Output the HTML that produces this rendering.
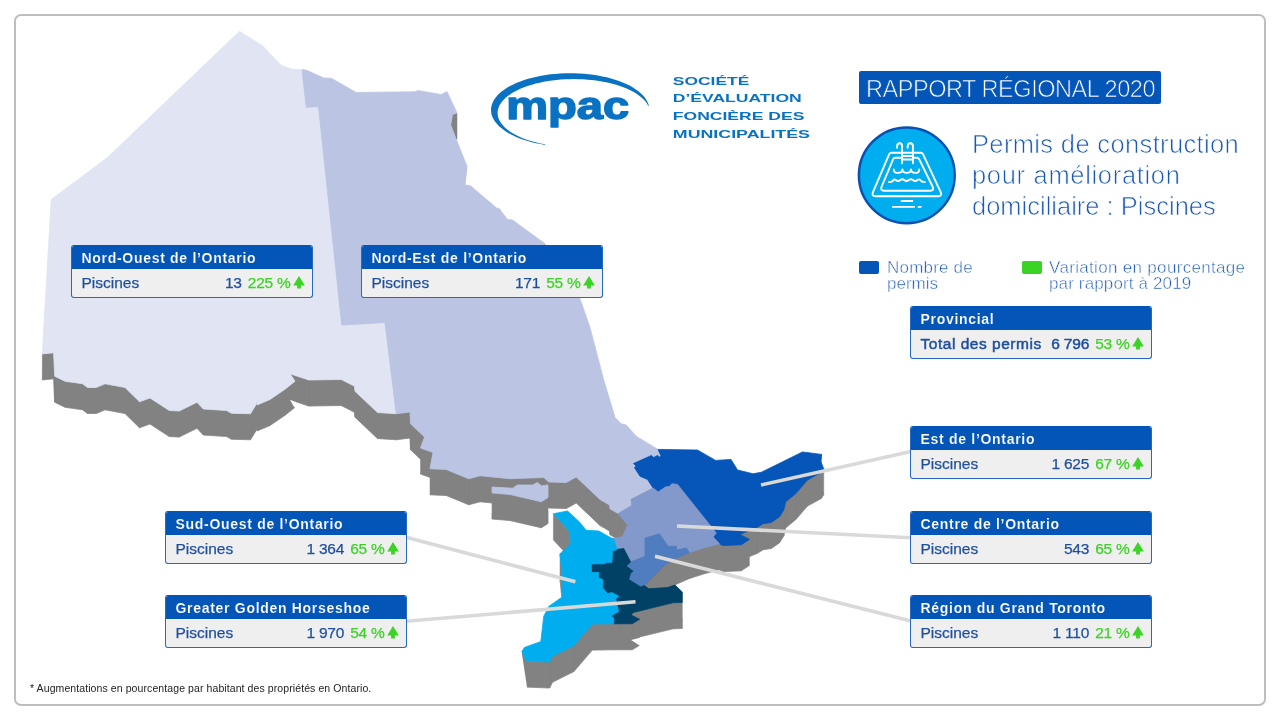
<!DOCTYPE html>
<html lang="fr">
<head>
<meta charset="utf-8">
<title>Rapport régional 2020 - Piscines</title>
<style>
*{box-sizing:border-box;margin:0;padding:0}
html,body{width:1280px;height:720px;background:#fff;overflow:hidden}
body{position:relative;font-family:"Liberation Sans",sans-serif}
.box,.rr,.title,.leg,.foot,svg.art{will-change:transform}
.frame{position:absolute;left:14px;top:14px;width:1252px;height:692px;border:2px solid #bebec0;border-radius:7px}
svg.art{position:absolute;left:0;top:0;width:1280px;height:720px}
.box{position:absolute;width:242px;height:53px;border:1px solid #2569c6;border-top-color:#0455b8;border-radius:3px;background:#efefef;overflow:hidden}
.box .h{height:23px;background:#0455b8;color:#fff;font-weight:bold;font-size:14px;line-height:24.6px;padding-left:9.5px;white-space:nowrap;letter-spacing:0.7px;-webkit-text-stroke:0.12px #0455b8}
.box .r{position:relative;height:28px;font-size:15.5px;line-height:28.6px;color:#1f4f9e;white-space:nowrap;-webkit-text-stroke:0.25px currentColor}
.box .r .l{position:absolute;left:9.5px;top:0;letter-spacing:0px}
.box .r .v{position:absolute;right:21.3px;top:0;letter-spacing:-0.2px}
.box .r .g{color:#3bd325;margin-left:6px}
.box .r svg{position:absolute;right:7.4px;top:6.7px;width:12px;height:13px}
.box.b .r .l,.box.b .r .v .n{-webkit-text-stroke:0.5px currentColor}.box.b .r .l{letter-spacing:0.52px}.box.b .r .v .n{letter-spacing:-0.15px}
.rr{position:absolute;left:858.5px;top:71px;width:301.8px;height:33px;background:#0455b8;border-radius:2px;color:#fff;font-size:23.5px;line-height:36.5px;padding-left:7px;white-space:nowrap;letter-spacing:-0.46px;-webkit-text-stroke:0.7px #0455b8;overflow:hidden}
.title{position:absolute;left:972.3px;top:128.6px;font-size:25.5px;line-height:31px;color:#1a58b6;white-space:nowrap;-webkit-text-stroke:0.7px #fff}
.leg{position:absolute;font-size:17px;line-height:16px;letter-spacing:0.2px;color:#1a58b6;white-space:nowrap;-webkit-text-stroke:0.5px #fff}
.sw{position:absolute;top:261px;width:20px;height:13px;border-radius:2px}
.foot{position:absolute;left:29.5px;top:681.5px;font-size:10.5px;letter-spacing:0.09px;line-height:13px;color:#222;white-space:nowrap}
</style>
</head>
<body>
<div class="frame"></div>
<svg class="art" viewBox="0 0 1280 720">
<g fill="#828282" stroke="#828282" stroke-width="0.5" stroke-linejoin="round">
<path d="M396.25 439.75L377.50 438.50L377.50 412.50L396.25 413.75ZM377.50 438.50L355.00 417.25L355.00 391.25L377.50 412.50ZM355.00 417.25L354.50 412.25L354.50 386.25L355.00 391.25ZM354.50 412.25L341.25 405.50L341.25 379.50L354.50 386.25ZM341.25 405.50L308.75 406.00L308.75 380.00L341.25 379.50ZM308.75 406.00L290.00 399.75L290.00 373.75L308.75 380.00ZM295.00 407.25L285.00 415.25L285.00 389.25L295.00 381.25ZM285.00 415.25L270.00 425.50L270.00 399.50L285.00 389.25ZM270.00 425.50L257.00 431.00L257.00 405.00L270.00 399.50ZM258.25 427.00L250.50 439.75L250.50 413.75L258.25 401.00ZM250.50 439.75L231.50 439.25L231.50 413.25L250.50 413.75ZM231.50 439.25L226.50 436.50L226.50 410.50L231.50 413.25ZM226.50 436.50L203.25 435.00L203.25 409.00L226.50 410.50ZM203.25 435.00L197.00 428.25L197.00 402.25L203.25 409.00ZM197.00 428.25L179.25 437.00L179.25 411.00L197.00 402.25ZM179.25 437.00L169.25 436.50L169.25 410.50L179.25 411.00ZM169.25 436.50L150.00 424.00L150.00 398.00L169.25 410.50ZM150.00 424.00L139.50 427.75L139.50 401.75L150.00 398.00ZM139.50 427.75L125.00 413.50L125.00 387.50L139.50 401.75ZM125.00 413.50L105.00 409.75L105.00 383.75L125.00 387.50ZM105.00 409.75L96.25 413.50L96.25 387.50L105.00 383.75ZM96.25 413.50L87.50 413.50L87.50 387.50L96.25 387.50ZM87.50 413.50L82.50 409.75L82.50 383.75L87.50 387.50ZM82.50 409.75L65.00 407.25L65.00 381.25L82.50 383.75ZM65.00 407.25L54.70 402.20L54.70 376.20L65.00 381.25ZM54.70 402.20L53.60 378.80L53.60 352.80L54.70 376.20ZM53.60 378.80L42.30 379.90L42.30 353.90L53.60 352.80ZM239.50 57.25L262.50 71.75L281.25 91.50L291.25 95.00L302.00 95.75L306.25 133.25L318.50 132.60L341.75 351.00L385.00 348.50L396.25 439.75L377.50 438.50L355.00 417.25L354.50 412.25L341.25 405.50L308.75 406.00L290.00 399.75L295.00 407.25L285.00 415.25L270.00 425.50L257.00 431.00L258.25 427.00L250.50 439.75L231.50 439.25L226.50 436.50L203.25 435.00L197.00 428.25L179.25 437.00L169.25 436.50L150.00 424.00L139.50 427.75L125.00 413.50L105.00 409.75L96.25 413.50L87.50 413.50L82.50 409.75L65.00 407.25L54.70 402.20L53.60 378.80L42.30 379.90L51.20 225.60L107.50 183.50Z"/>
<path d="M457.00 139.00L452.50 140.50L452.50 114.50L457.00 113.00ZM452.50 140.50L450.75 151.00L450.75 125.00L452.50 114.50ZM467.00 192.25L465.00 211.00L465.00 185.00L467.00 166.25ZM660.90 481.60L659.75 483.25L659.75 457.25L660.90 455.60ZM659.75 483.25L657.50 481.40L657.50 455.40L659.75 457.25ZM657.50 481.40L653.50 483.50L653.50 457.50L657.50 455.40ZM653.50 483.50L651.50 481.40L651.50 455.40L653.50 457.50ZM651.50 481.40L633.50 489.50L633.50 463.50L651.50 455.40ZM636.25 492.25L634.40 493.50L634.40 467.50L636.25 466.25ZM653.10 514.10L631.00 525.40L631.00 499.40L653.10 488.10ZM631.90 531.60L618.10 539.50L618.10 513.50L631.90 505.60ZM618.10 539.50L610.00 534.75L610.00 508.75L618.10 513.50ZM610.00 534.75L609.50 531.00L609.50 505.00L610.00 508.75ZM609.50 531.00L600.00 525.50L600.00 499.50L609.50 505.00ZM600.00 525.50L576.25 503.00L576.25 477.00L600.00 499.50ZM576.25 503.00L566.25 508.50L566.25 482.50L576.25 477.00ZM566.25 508.50L548.75 508.00L548.75 482.00L566.25 482.50ZM548.75 508.00L543.75 503.50L543.75 477.50L548.75 482.00ZM543.75 503.50L510.00 504.75L510.00 478.75L543.75 477.50ZM510.00 504.75L480.00 501.75L480.00 475.75L510.00 478.75ZM480.00 501.75L468.75 504.75L468.75 478.75L480.00 475.75ZM468.75 504.75L446.25 495.50L446.25 469.50L468.75 478.75ZM446.25 495.50L430.00 494.75L430.00 468.75L446.25 469.50ZM433.00 478.50L420.50 474.00L420.50 448.00L433.00 452.50ZM424.50 463.00L410.50 449.75L410.50 423.75L424.50 437.00ZM410.50 449.75L410.00 438.00L410.00 412.00L410.50 423.75ZM410.00 438.00L396.25 439.75L396.25 413.75L410.00 412.00ZM396.25 439.75L385.00 348.50L385.00 322.50L396.25 413.75ZM385.00 348.50L341.75 351.00L341.75 325.00L385.00 322.50ZM341.75 351.00L318.50 132.60L318.50 106.60L341.75 325.00ZM318.50 132.60L306.25 133.25L306.25 107.25L318.50 106.60ZM306.25 133.25L302.00 95.75L302.00 69.75L306.25 107.25ZM302.00 95.75L306.25 96.00L323.75 104.00L331.25 104.25L356.25 118.50L415.00 117.75L417.50 116.50L441.25 120.50L447.00 117.50L457.00 139.00L452.50 140.50L450.75 151.00L457.00 167.25L467.00 192.25L465.00 211.00L470.50 211.75L497.50 234.75L498.75 234.00L507.50 245.50L512.50 246.00L545.00 269.75L580.00 324.75L590.00 353.50L603.75 406.00L615.00 443.50L621.25 449.75L626.25 451.00L636.25 462.25L658.00 475.40L660.90 481.60L659.75 483.25L657.50 481.40L653.50 483.50L651.50 481.40L633.50 489.50L636.25 492.25L634.40 493.50L640.00 502.25L647.50 505.40L653.10 514.10L631.00 525.40L631.90 531.60L618.10 539.50L610.00 534.75L609.50 531.00L600.00 525.50L576.25 503.00L566.25 508.50L548.75 508.00L543.75 503.50L510.00 504.75L480.00 501.75L468.75 504.75L446.25 495.50L430.00 494.75L433.00 478.50L420.50 474.00L424.50 463.00L410.50 449.75L410.00 438.00L396.25 439.75L385.00 348.50L341.75 351.00L318.50 132.60L306.25 133.25Z"/>
<path d="M548.00 523.50L541.25 527.75L541.25 501.75L548.00 497.50ZM541.25 527.75L510.00 520.50L510.00 494.50L541.25 501.75ZM510.00 520.50L492.00 519.00L492.00 493.00L510.00 494.50ZM492.00 513.00L512.50 514.25L517.50 511.00L532.50 511.00L537.50 508.50L541.25 511.75L548.00 511.00L548.00 523.50L541.25 527.75L510.00 520.50L492.00 519.00Z"/>
<path d="M821.60 480.40L820.60 487.25L820.60 461.25L821.60 454.40ZM823.75 494.75L821.25 498.50L821.25 472.50L823.75 468.75ZM821.25 498.50L807.50 506.00L807.50 480.00L821.25 472.50ZM807.50 506.00L795.60 519.75L795.60 493.75L807.50 480.00ZM795.60 519.75L785.60 527.90L785.60 501.90L795.60 493.75ZM785.60 527.90L783.75 536.00L783.75 510.00L785.60 501.90ZM783.75 536.00L779.40 542.90L779.40 516.90L783.75 510.00ZM779.40 542.90L771.25 548.50L771.25 522.50L779.40 516.90ZM771.25 548.50L763.10 549.75L763.10 523.75L771.25 522.50ZM763.10 549.75L756.90 553.50L756.90 527.50L763.10 523.75ZM756.90 553.50L740.00 560.40L740.00 534.40L756.90 527.50ZM749.40 565.40L741.25 570.75L741.25 544.75L749.40 539.40ZM741.25 570.75L723.10 571.60L723.10 545.60L741.25 544.75ZM723.10 571.60L719.40 569.75L719.40 543.75L723.10 545.60ZM719.40 569.75L713.10 562.90L713.10 536.90L719.40 543.75ZM716.25 559.10L677.50 510.40L677.50 484.40L716.25 533.10ZM677.50 510.40L671.90 509.75L671.90 483.75L677.50 484.40ZM671.90 509.75L669.40 512.50L669.40 486.50L671.90 483.75ZM669.40 512.50L665.60 512.90L665.60 486.90L669.40 486.50ZM665.60 512.90L658.10 517.90L658.10 491.90L665.60 486.90ZM658.10 517.90L653.10 514.10L653.10 488.10L658.10 491.90ZM653.10 514.10L647.50 505.40L647.50 479.40L653.10 488.10ZM647.50 505.40L640.00 502.25L640.00 476.25L647.50 479.40ZM640.00 502.25L634.40 493.50L634.40 467.50L640.00 476.25ZM636.25 492.25L633.50 489.50L633.50 463.50L636.25 466.25ZM660.90 481.60L658.00 475.40L658.00 449.40L660.90 455.60ZM658.00 475.40L697.50 476.00L715.60 486.40L731.00 485.40L737.50 496.00L753.10 499.75L761.25 498.25L780.00 489.10L802.50 477.90L821.60 480.40L820.60 487.25L823.75 494.75L821.25 498.50L807.50 506.00L795.60 519.75L785.60 527.90L783.75 536.00L779.40 542.90L771.25 548.50L763.10 549.75L756.90 553.50L740.00 560.40L749.40 565.40L741.25 570.75L723.10 571.60L719.40 569.75L713.10 562.90L716.25 559.10L677.50 510.40L671.90 509.75L669.40 512.50L665.60 512.90L658.10 517.90L653.10 514.10L647.50 505.40L640.00 502.25L634.40 493.50L636.25 492.25L633.50 489.50L651.50 481.40L653.50 483.50L657.50 481.40L659.75 483.25L660.90 481.60Z"/>
<path d="M716.25 559.10L713.10 562.90L713.10 536.90L716.25 533.10ZM719.40 569.75L705.00 573.50L705.00 547.50L719.40 543.75ZM705.00 573.50L689.40 578.50L689.40 552.50L705.00 547.50ZM689.40 578.50L686.25 574.10L686.25 548.10L689.40 552.50ZM686.25 574.10L676.90 576.00L676.90 550.00L686.25 548.10ZM676.90 576.00L676.25 572.25L676.25 546.25L676.90 550.00ZM676.25 572.25L668.10 572.25L668.10 546.25L676.25 546.25ZM668.10 572.25L659.40 559.75L659.40 533.75L668.10 546.25ZM659.40 559.75L645.00 564.10L645.00 538.10L659.40 533.75ZM645.00 581.00L643.75 582.90L643.75 556.90L645.00 555.00ZM643.75 582.90L630.60 587.90L630.60 561.90L643.75 556.90ZM630.60 587.90L623.75 574.50L623.75 548.50L630.60 561.90ZM623.75 574.50L616.90 575.40L616.90 549.40L623.75 548.50ZM616.90 575.40L613.75 564.50L613.75 538.50L616.90 549.40ZM627.50 551.00L618.10 539.50L618.10 513.50L627.50 525.00ZM631.90 531.60L631.00 525.40L631.00 499.40L631.90 505.60ZM653.10 514.10L658.10 517.90L665.60 512.90L669.40 512.50L671.90 509.75L677.50 510.40L716.25 559.10L713.10 562.90L719.40 569.75L705.00 573.50L689.40 578.50L686.25 574.10L676.90 576.00L676.25 572.25L668.10 572.25L659.40 559.75L645.00 564.10L645.00 581.00L643.75 582.90L630.60 587.90L623.75 574.50L616.90 575.40L613.75 564.50L622.50 562.90L627.50 551.00L618.10 539.50L631.90 531.60L631.00 525.40Z"/>
<path d="M689.40 578.50L675.00 584.75L675.00 558.75L689.40 552.50ZM675.00 584.75L665.00 591.00L665.00 565.00L675.00 558.75ZM665.00 591.00L655.00 601.00L655.00 575.00L665.00 565.00ZM655.00 601.00L644.40 611.60L644.40 585.60L655.00 575.00ZM644.40 611.60L640.60 612.90L640.60 586.90L644.40 585.60ZM640.60 612.90L628.75 605.40L628.75 579.40L640.60 586.90ZM633.10 597.25L626.25 592.00L626.25 566.00L633.10 571.25ZM630.60 587.90L643.75 582.90L645.00 581.00L645.00 564.10L659.40 559.75L668.10 572.25L676.25 572.25L676.90 576.00L686.25 574.10L689.40 578.50L675.00 584.75L665.00 591.00L655.00 601.00L644.40 611.60L640.60 612.90L628.75 605.40L630.60 599.10L633.10 597.25L626.25 592.00Z"/>
<path d="M630.60 587.90L626.25 592.00L626.25 566.00L630.60 561.90ZM633.10 597.25L630.60 599.10L630.60 573.10L633.10 571.25ZM630.60 599.10L628.75 605.40L628.75 579.40L630.60 573.10ZM682.30 628.40L673.00 628.80L673.00 602.80L682.30 602.40ZM673.00 628.80L633.10 638.50L633.10 612.50L673.00 602.80ZM633.10 638.50L631.20 641.00L631.20 615.00L633.10 612.50ZM639.60 645.30L632.20 649.75L632.20 623.75L639.60 619.30ZM632.20 649.75L613.70 649.75L613.70 623.75L632.20 623.75ZM613.70 644.30L611.20 641.80L611.20 615.80L613.70 618.30ZM618.60 637.50L615.60 625.00L615.60 599.00L618.60 611.50ZM618.75 622.25L611.90 618.50L611.90 592.50L618.75 596.25ZM611.90 618.50L607.50 619.75L607.50 593.75L611.90 592.50ZM607.50 619.75L602.50 613.50L602.50 587.50L607.50 593.75ZM603.10 606.00L598.50 603.50L598.50 577.50L603.10 580.00ZM598.75 598.50L591.50 598.50L591.50 572.50L598.75 572.50ZM591.50 598.50L591.25 590.00L591.25 564.00L591.50 572.50ZM616.90 575.40L623.75 574.50L630.60 587.90L626.25 592.00L633.10 597.25L630.60 599.10L628.75 605.40L640.60 612.90L644.40 611.60L648.75 614.75L667.50 613.50L675.00 611.00L682.30 618.10L682.30 628.40L673.00 628.80L633.10 638.50L631.20 641.00L639.60 645.30L632.20 649.75L613.70 649.75L613.70 644.30L611.20 641.80L618.60 637.50L615.60 625.00L618.75 622.25L611.90 618.50L607.50 619.75L602.50 613.50L603.10 606.00L598.50 603.50L598.75 598.50L591.50 598.50L591.25 590.00L605.00 589.75L606.25 588.50L611.90 588.50L612.50 577.25Z"/>
<path d="M616.90 575.40L612.50 577.25L612.50 551.25L616.90 549.40ZM612.50 577.25L611.90 588.50L611.90 562.50L612.50 551.25ZM611.90 588.50L606.25 588.50L606.25 562.50L611.90 562.50ZM606.25 588.50L605.00 589.75L605.00 563.75L606.25 562.50ZM605.00 589.75L591.25 590.00L591.25 564.00L605.00 563.75ZM598.75 598.50L598.50 603.50L598.50 577.50L598.75 572.50ZM603.10 606.00L602.50 613.50L602.50 587.50L603.10 580.00ZM618.75 622.25L615.60 625.00L615.60 599.00L618.75 596.25ZM618.60 637.50L611.20 641.80L611.20 615.80L618.60 611.50ZM613.70 649.75L592.30 650.10L592.30 624.10L613.70 623.75ZM592.30 650.10L573.90 671.50L573.90 645.50L592.30 624.10ZM573.90 671.50L552.50 682.20L552.50 656.20L573.90 645.50ZM552.50 682.20L549.60 688.00L549.60 662.00L552.50 656.20ZM549.60 688.00L526.20 687.10L526.20 661.10L549.60 662.00ZM526.20 687.10L522.00 677.40L522.00 651.40L526.20 661.10ZM562.30 602.25L560.00 579.75L560.00 553.75L562.30 576.25ZM571.00 569.10L569.40 557.25L569.40 531.25L571.00 543.10ZM569.40 557.25L553.40 539.75L553.40 513.75L569.40 531.25ZM553.40 539.75L567.50 537.00L578.75 547.25L586.25 556.25L598.75 557.00L611.25 563.90L613.75 564.50L616.90 575.40L612.50 577.25L611.90 588.50L606.25 588.50L605.00 589.75L591.25 590.00L591.50 598.50L598.75 598.50L598.50 603.50L603.10 606.00L602.50 613.50L607.50 619.75L611.90 618.50L618.75 622.25L615.60 625.00L618.60 637.50L611.20 641.80L613.70 644.30L613.70 649.75L592.30 650.10L573.90 671.50L552.50 682.20L549.60 688.00L526.20 687.10L522.00 677.40L524.30 673.50L540.80 667.60L543.70 642.40L548.60 632.60L562.20 622.90L562.30 602.25L560.00 579.75L571.00 569.10L569.40 557.25Z"/>
</g>
<g fill="#fff">
<polygon points="519,651.6 521.6,651.6 527.1,687.8 519,690"/>
<polygon points="631.1,640 639.9,645.7 641,645.7 641,637.6"/>
<polygon points="290,399.8 296.2,402.2 296.2,408.2 293.9,406.8"/>
<polygon points="467,166.3 468.5,166.3 468.5,185.5 465,185"/>
</g>
<polygon points="239.50,31.25 262.50,45.75 281.25,65.50 291.25,69.00 302.00,69.75 306.25,107.25 318.50,106.60 341.75,325.00 385.00,322.50 396.25,413.75 377.50,412.50 355.00,391.25 354.50,386.25 341.25,379.50 308.75,380.00 290.00,373.75 295.00,381.25 285.00,389.25 270.00,399.50 257.00,405.00 258.25,401.00 250.50,413.75 231.50,413.25 226.50,410.50 203.25,409.00 197.00,402.25 179.25,411.00 169.25,410.50 150.00,398.00 139.50,401.75 125.00,387.50 105.00,383.75 96.25,387.50 87.50,387.50 82.50,383.75 65.00,381.25 54.70,376.20 53.60,352.80 42.30,353.90 51.20,199.60 107.50,157.50" fill="#e0e4f3" stroke="#e0e4f3" stroke-width="0.8" stroke-linejoin="round"/>
<polygon points="302.00,69.75 306.25,70.00 323.75,78.00 331.25,78.25 356.25,92.50 415.00,91.75 417.50,90.50 441.25,94.50 447.00,91.50 457.00,113.00 452.50,114.50 450.75,125.00 457.00,141.25 467.00,166.25 465.00,185.00 470.50,185.75 497.50,208.75 498.75,208.00 507.50,219.50 512.50,220.00 545.00,243.75 580.00,298.75 590.00,327.50 603.75,380.00 615.00,417.50 621.25,423.75 626.25,425.00 636.25,436.25 658.00,449.40 660.90,455.60 659.75,457.25 657.50,455.40 653.50,457.50 651.50,455.40 633.50,463.50 636.25,466.25 634.40,467.50 640.00,476.25 647.50,479.40 653.10,488.10 631.00,499.40 631.90,505.60 618.10,513.50 610.00,508.75 609.50,505.00 600.00,499.50 576.25,477.00 566.25,482.50 548.75,482.00 543.75,477.50 510.00,478.75 480.00,475.75 468.75,478.75 446.25,469.50 430.00,468.75 433.00,452.50 420.50,448.00 424.50,437.00 410.50,423.75 410.00,412.00 396.25,413.75 385.00,322.50 341.75,325.00 318.50,106.60 306.25,107.25" fill="#bbc5e3" stroke="#bbc5e3" stroke-width="0.8" stroke-linejoin="round"/>
<polygon points="492.00,487.00 512.50,488.25 517.50,485.00 532.50,485.00 537.50,482.50 541.25,485.75 548.00,485.00 548.00,497.50 541.25,501.75 510.00,494.50 492.00,493.00" fill="#bbc5e3" stroke="#bbc5e3" stroke-width="0.8" stroke-linejoin="round"/>
<polygon points="658.00,449.40 697.50,450.00 715.60,460.40 731.00,459.40 737.50,470.00 753.10,473.75 761.25,472.25 780.00,463.10 802.50,451.90 821.60,454.40 820.60,461.25 823.75,468.75 821.25,472.50 807.50,480.00 795.60,493.75 785.60,501.90 783.75,510.00 779.40,516.90 771.25,522.50 763.10,523.75 756.90,527.50 740.00,534.40 749.40,539.40 741.25,544.75 723.10,545.60 719.40,543.75 713.10,536.90 716.25,533.10 677.50,484.40 671.90,483.75 669.40,486.50 665.60,486.90 658.10,491.90 653.10,488.10 647.50,479.40 640.00,476.25 634.40,467.50 636.25,466.25 633.50,463.50 651.50,455.40 653.50,457.50 657.50,455.40 659.75,457.25 660.90,455.60" fill="#0656b9" stroke="#0656b9" stroke-width="0.8" stroke-linejoin="round"/>
<polygon points="653.10,488.10 658.10,491.90 665.60,486.90 669.40,486.50 671.90,483.75 677.50,484.40 716.25,533.10 713.10,536.90 719.40,543.75 705.00,547.50 689.40,552.50 686.25,548.10 676.90,550.00 676.25,546.25 668.10,546.25 659.40,533.75 645.00,538.10 645.00,555.00 643.75,556.90 630.60,561.90 623.75,548.50 616.90,549.40 613.75,538.50 622.50,536.90 627.50,525.00 618.10,513.50 631.90,505.60 631.00,499.40" fill="#8499cb" stroke="#8499cb" stroke-width="0.8" stroke-linejoin="round"/>
<polygon points="630.60,561.90 643.75,556.90 645.00,555.00 645.00,538.10 659.40,533.75 668.10,546.25 676.25,546.25 676.90,550.00 686.25,548.10 689.40,552.50 675.00,558.75 665.00,565.00 655.00,575.00 644.40,585.60 640.60,586.90 628.75,579.40 630.60,573.10 633.10,571.25 626.25,566.00" fill="#4f7dbf" stroke="#4f7dbf" stroke-width="0.8" stroke-linejoin="round"/>
<polygon points="616.90,549.40 623.75,548.50 630.60,561.90 626.25,566.00 633.10,571.25 630.60,573.10 628.75,579.40 640.60,586.90 644.40,585.60 648.75,588.75 667.50,587.50 675.00,585.00 682.30,592.10 682.30,602.40 673.00,602.80 633.10,612.50 631.20,615.00 639.60,619.30 632.20,623.75 613.70,623.75 613.70,618.30 611.20,615.80 618.60,611.50 615.60,599.00 618.75,596.25 611.90,592.50 607.50,593.75 602.50,587.50 603.10,580.00 598.50,577.50 598.75,572.50 591.50,572.50 591.25,564.00 605.00,563.75 606.25,562.50 611.90,562.50 612.50,551.25" fill="#004165" stroke="#004165" stroke-width="0.8" stroke-linejoin="round"/>
<polygon points="553.40,513.75 567.50,511.00 578.75,521.25 586.25,530.25 598.75,531.00 611.25,537.90 613.75,538.50 616.90,549.40 612.50,551.25 611.90,562.50 606.25,562.50 605.00,563.75 591.25,564.00 591.50,572.50 598.75,572.50 598.50,577.50 603.10,580.00 602.50,587.50 607.50,593.75 611.90,592.50 618.75,596.25 615.60,599.00 618.60,611.50 611.20,615.80 613.70,618.30 613.70,623.75 592.30,624.10 573.90,645.50 552.50,656.20 549.60,662.00 526.20,661.10 522.00,651.40 524.30,647.50 540.80,641.60 543.70,616.40 548.60,606.60 562.20,596.90 562.30,576.25 560.00,553.75 571.00,543.10 569.40,531.25" fill="#00aeef" stroke="#00aeef" stroke-width="0.8" stroke-linejoin="round"/>
<!-- leader lines -->
<g stroke="#d9d9d9" stroke-width="3.6" fill="none">
<line x1="761" y1="485" x2="911" y2="451.6"/>
<line x1="677" y1="526" x2="911" y2="537.8"/>
<line x1="655" y1="556.3" x2="911" y2="621"/>
<line x1="406" y1="537.3" x2="575.4" y2="581.8"/>
<line x1="406" y1="621.3" x2="635.5" y2="601.8"/>
</g>
<!-- logo -->
<g fill="#0a72c2">
<polygon points="649.90,105.40 648.89,105.83 648.20,103.61 647.21,101.41 645.94,99.24 644.38,97.11 642.55,95.03 640.45,93.01 638.09,91.05 635.47,89.16 632.61,87.34 629.52,85.62 626.20,83.98 622.68,82.44 618.96,81.00 615.06,79.67 610.99,78.46 606.77,77.36 602.41,76.38 597.94,75.53 593.36,74.81 588.69,74.22 583.95,73.76 579.17,73.44 574.35,73.25 569.51,73.20 564.68,73.29 559.86,73.51 555.09,73.88 550.37,74.37 545.73,75.00 541.17,75.76 536.73,76.65 532.41,77.66 528.23,78.79 524.21,80.04 520.36,81.40 516.69,82.87 513.23,84.44 509.98,86.10 506.95,87.85 504.16,89.69 501.61,91.60 499.32,93.58 497.30,95.62 495.54,97.72 494.07,99.86 492.88,102.04 491.98,104.24 491.36,106.47 491.05,108.72 491.03,110.96 491.30,113.21 491.87,115.44 492.73,117.65 493.88,119.83 495.31,121.98 497.03,124.08 499.02,126.13 501.27,128.12 503.78,130.04 506.53,131.89 509.53,133.65 512.75,135.33 516.19,136.91 519.82,138.40 523.65,139.77 527.65,141.04 531.80,142.19 536.10,143.22 540.53,144.12 545.07,144.90 545.00,144.40 544.64,144.32 540.57,143.51 536.61,142.59 532.78,141.57 529.09,140.45 525.55,139.24 522.18,137.94 518.99,136.55 515.98,135.08 513.17,133.54 510.57,131.92 508.19,130.24 506.04,128.50 504.11,126.71 502.43,124.87 500.99,122.99 499.80,121.08 498.86,119.14 498.18,117.17 497.76,115.20 497.60,113.21 497.70,111.23 498.07,109.25 498.69,107.28 499.57,105.33 500.71,103.41 502.10,101.52 503.73,99.68 505.61,97.87 507.71,96.12 510.05,94.43 512.60,92.80 515.37,91.24 518.33,89.76 521.49,88.35 524.82,87.03 528.32,85.80 531.98,84.66 535.78,83.62 539.71,82.68 543.76,81.84 547.92,81.12 552.16,80.50 556.47,79.99 560.85,79.59 565.27,79.31 569.72,79.15 574.18,79.10 578.64,79.17 583.09,79.35 587.50,79.65 591.87,80.07 596.17,80.59 600.40,81.23 604.53,81.98 608.56,82.83 612.47,83.79 616.25,84.85 619.89,86.00 623.36,87.25 626.66,88.59 629.79,90.00 632.72,91.50 635.45,93.07 637.96,94.71 640.26,96.42 642.33,98.18 644.16,99.99 645.76,101.84 647.10,103.74 648.19,105.66"/>
<text x="506.2" y="118.5" font-family="Liberation Sans, sans-serif" font-weight="bold" font-size="39.5" textLength="123" lengthAdjust="spacingAndGlyphs" stroke="#0a72c2" stroke-width="1.5" stroke-linejoin="round">mpac</text>
<g font-family="Liberation Sans, sans-serif" font-weight="bold" font-size="11.2">
<text x="672.8" y="84.6" textLength="76.6" lengthAdjust="spacingAndGlyphs">SOCIÉTÉ</text>
<text x="672.8" y="102.3" textLength="129" lengthAdjust="spacingAndGlyphs">D’ÉVALUATION</text>
<text x="672.8" y="120.4" textLength="131.6" lengthAdjust="spacingAndGlyphs">FONCIÈRE DES</text>
<text x="672.8" y="138.1" textLength="137.2" lengthAdjust="spacingAndGlyphs">MUNICIPALITÉS</text>
</g>
</g>
<!-- pool icon -->
<circle cx="906.8" cy="175.3" r="47.9" fill="#00aeef" stroke="#0a50b2" stroke-width="2.5"/>
<g fill="none" stroke="#fff" stroke-width="1.9" stroke-linecap="round" stroke-linejoin="round">
<path d="M901,152.7 H891.5 Q889.9,152.7 889.2,154.2 L872.9,192.3 Q871.4,196.2 875.5,196.2 H938.2 Q942.3,196.2 940.8,192.3 L923,154.2 Q922.3,152.7 920.7,152.7 H914"/>
<path d="M901,157.7 H895 Q893.8,157.7 893.3,158.8 L881.5,187 Q880.3,190.8 883.8,190.8 H930.5 Q934,190.8 932.8,187 L919,158.8 Q918.5,157.7 917.3,157.7 H914"/>
<path d="M902.1,163.2 V146.2 Q902.1,143.3 899.6,143.3 Q897.1,143.3 897.1,146.2 V147.7"/>
<path d="M912.9,163.2 V146.2 Q912.9,143.3 910.3,143.3 Q907.7,143.3 907.7,146.2 V147.7"/>
<path d="M902.1,152.7 H912.9 M902.1,156 H912.9 M902.1,159.5 H912.9"/>
<path d="M893.8,169.4 Q893.8,172.9 898,172.9 Q902.2,172.9 902.4,169.4 Q902.6,172.9 906.7,172.9 Q910.8,172.9 911,169.4 Q911.2,172.9 915.2,172.9 Q919.3,172.9 919.3,169.4"/>
<path d="M888.8,182.1 Q892.4,182.1 893.4,180.2 Q894.2,178.8 895.7,180 Q898,182.1 900.4,180 Q902.3,178.4 904.2,180 Q906.6,182.1 909,180 Q910.9,178.4 912.8,180 Q915.2,182.1 917.6,180 Q919.3,178.6 920.4,180.2 Q921.6,182.1 924.9,182.1"/>
<path d="M901.5,201 H912.4 M892.8,206.8 H914.2 M918.4,206.8 H920.8" stroke-width="1.8"/>
</g>
</svg>

<div class="rr">RAPPORT RÉGIONAL 2020</div>
<div class="title"><span style="letter-spacing:0.35px">Permis de construction</span><br><span style="letter-spacing:0.68px">pour amélioration</span><br>domiciliaire : Piscines</div>

<div class="sw" style="left:859px;background:#0455b8"></div>
<div class="leg" style="left:886.5px;top:260px">Nombre de<br><span style="letter-spacing:0px">permis</span></div>
<div class="sw" style="left:1021.5px;background:#3bd325"></div>
<div class="leg" style="left:1049px;top:260px"><span style="letter-spacing:0.32px">Variation en pourcentage</span><br><span style="letter-spacing:0.14px">par rapport à 2019</span></div>

<div class="box" style="left:71px;top:244.5px"><div class="h">Nord-Ouest de l’Ontario</div><div class="r"><span class="l">Piscines</span><span class="v"><span class="n">13</span><span class="g">225 %</span></span><svg viewBox="0 0 12 13"><path d="M6,0 L11.8,9.6 H7.9 V12.6 H4.1 V9.6 H0.2 Z" fill="#3bd325"/></svg></div></div>

<div class="box" style="left:361px;top:244.5px"><div class="h">Nord-Est de l’Ontario</div><div class="r"><span class="l">Piscines</span><span class="v"><span class="n">171</span><span class="g">55 %</span></span><svg viewBox="0 0 12 13"><path d="M6,0 L11.8,9.6 H7.9 V12.6 H4.1 V9.6 H0.2 Z" fill="#3bd325"/></svg></div></div>

<div class="box b" style="left:910px;top:306px"><div class="h">Provincial</div><div class="r"><span class="l">Total des permis</span><span class="v"><span class="n">6 796</span><span class="g">53 %</span></span><svg viewBox="0 0 12 13"><path d="M6,0 L11.8,9.6 H7.9 V12.6 H4.1 V9.6 H0.2 Z" fill="#3bd325"/></svg></div></div>

<div class="box" style="left:910px;top:426px"><div class="h">Est de l’Ontario</div><div class="r"><span class="l">Piscines</span><span class="v"><span class="n">1 625</span><span class="g">67 %</span></span><svg viewBox="0 0 12 13"><path d="M6,0 L11.8,9.6 H7.9 V12.6 H4.1 V9.6 H0.2 Z" fill="#3bd325"/></svg></div></div>

<div class="box" style="left:910px;top:511px"><div class="h">Centre de l’Ontario</div><div class="r"><span class="l">Piscines</span><span class="v"><span class="n">543</span><span class="g">65 %</span></span><svg viewBox="0 0 12 13"><path d="M6,0 L11.8,9.6 H7.9 V12.6 H4.1 V9.6 H0.2 Z" fill="#3bd325"/></svg></div></div>

<div class="box" style="left:910px;top:595px"><div class="h">Région du Grand Toronto</div><div class="r"><span class="l">Piscines</span><span class="v"><span class="n">1 110</span><span class="g">21 %</span></span><svg viewBox="0 0 12 13"><path d="M6,0 L11.8,9.6 H7.9 V12.6 H4.1 V9.6 H0.2 Z" fill="#3bd325"/></svg></div></div>

<div class="box" style="left:165px;top:511px"><div class="h">Sud-Ouest de l’Ontario</div><div class="r"><span class="l">Piscines</span><span class="v"><span class="n">1 364</span><span class="g">65 %</span></span><svg viewBox="0 0 12 13"><path d="M6,0 L11.8,9.6 H7.9 V12.6 H4.1 V9.6 H0.2 Z" fill="#3bd325"/></svg></div></div>

<div class="box" style="left:165px;top:595px"><div class="h">Greater Golden Horseshoe</div><div class="r"><span class="l">Piscines</span><span class="v"><span class="n">1 970</span><span class="g">54 %</span></span><svg viewBox="0 0 12 13"><path d="M6,0 L11.8,9.6 H7.9 V12.6 H4.1 V9.6 H0.2 Z" fill="#3bd325"/></svg></div></div>

<div class="foot">* Augmentations en pourcentage par habitant des propriétés en Ontario.</div>
</body>
</html>
